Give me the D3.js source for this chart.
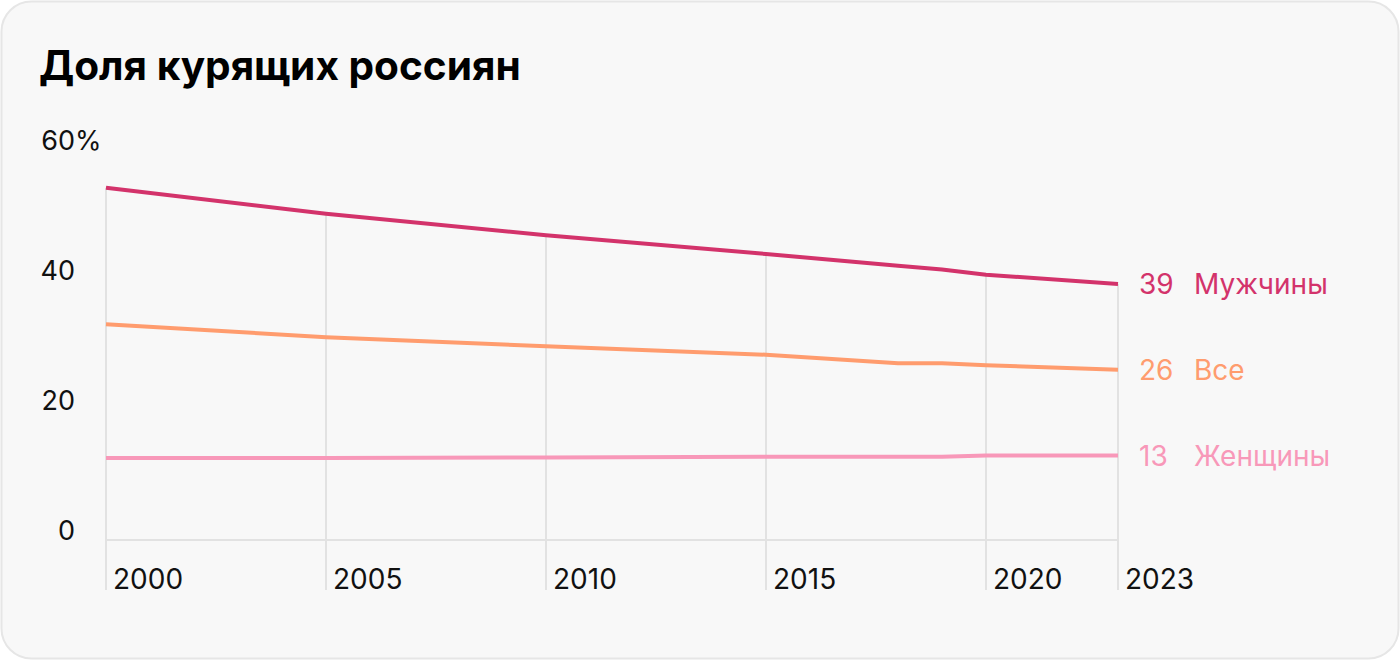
<!DOCTYPE html>
<html><head><meta charset="utf-8">
<script src="https://cdn.jsdelivr.net/npm/d3@7"></script>
<style>
html,body{margin:0;padding:0;background:#fff;}
svg{display:block;font-family:Inter,Roboto,"Noto Sans",sans-serif;}
</style></head>
<body>
<svg id="chart" width="1400" height="660"></svg>
<script>
const years = [2000, 2005, 2010, 2015, 2018, 2019, 2020, 2023];
const men   = [54.2, 50.2, 46.9, 44.0, 42.2, 41.6, 40.8, 39.4];
const all   = [33.2, 31.2, 29.8, 28.5, 27.2, 27.2, 26.9, 26.2];
const women = [12.6, 12.6, 12.7, 12.8, 12.8, 12.8, 13.0, 13.0];
const seriesNames = ["Мужчины", "Все", "Женщины"];
const seriesLabels = ["39", "26", "13"];
const colors = ["#d3336b", "#ff9c6e", "#f898b9"];
const yTicks = [0, 20, 40, 60];
const xTicks = [2000, 2005, 2010, 2015, 2020, 2023];
const titleText = "Доля курящих россиян";

const svg = d3.select("#chart");
svg.append("rect").attr("x",1.5).attr("y",1.5).attr("width",1397).attr("height",657)
  .attr("rx",30).attr("fill","#f8f8f8").attr("stroke","#e6e6e6").attr("stroke-width",2);

svg.append("text").attr("x",39).attr("y",80).attr("font-size",40.6).attr("font-weight",700)
  .attr("fill","#000").text(titleText);

const x = d3.scaleLinear().domain([2000, 2023]).range([106, 1118]);
const y = d3.scaleLinear().domain([0, 60]).range([540, 150]);

const seriesData = [men, all, women];
const gridTop = d3.scaleLinear().domain(years).range(men); // gridline tops follow the men line

// vertical grid lines
svg.append("g").selectAll("line").data(xTicks).join("line")
  .attr("x1", d => x(d)).attr("x2", d => x(d))
  .attr("y1", d => y(gridTop(d))).attr("y2", 590)
  .attr("stroke", "#e2e2e2").attr("stroke-width", 2);

// baseline
svg.append("line").attr("x1", x(2000)).attr("x2", x(2023)).attr("y1", y(0)).attr("y2", y(0))
  .attr("stroke", "#e2e2e2").attr("stroke-width", 2);

// y labels
const yl = svg.append("g");
yTicks.forEach(t => {
  yl.append("text").attr("x", 75).attr("y", y(t) - 0.5).attr("text-anchor","end")
    .attr("font-size", 27).attr("fill","#111").text(t);
  if (t === 60) yl.append("text").attr("x", 75).attr("y", y(t) - 0.5).attr("font-size",27).attr("fill","#111").text("%");
});

// x labels
svg.append("g").selectAll("text").data(xTicks).join("text")
  .attr("x", d => x(d) + 7).attr("y", 589).attr("font-size", 28).attr("fill","#111").text(d => d);

// lines
const line = d3.line().x((d,i) => x(years[i])).y(d => y(d));
seriesData.forEach((s, k) => {
  svg.append("path").datum(s).attr("d", line).attr("fill","none")
    .attr("stroke", colors[k]).attr("stroke-width", 4);
  const last = s[s.length-1];
  svg.append("text").attr("x", 1139).attr("y", y(last) + 10).attr("font-size",28)
    .attr("fill", colors[k]).text(seriesLabels[k]);
  svg.append("text").attr("x", 1194).attr("y", y(last) + 10).attr("font-size",28)
    .attr("fill", colors[k]).text(seriesNames[k]);
});
</script>
</body></html>
